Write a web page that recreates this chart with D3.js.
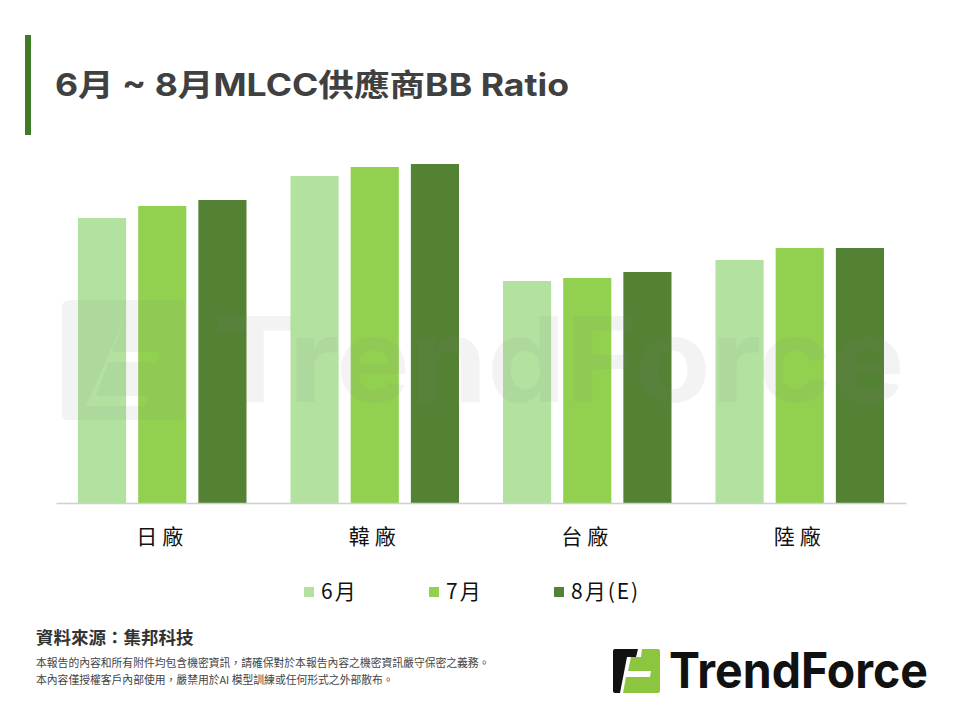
<!DOCTYPE html>
<html>
<head>
<meta charset="utf-8">
<script src="https://cdn.jsdelivr.net/npm/d3@7"></script>
<style>
  html, body { margin: 0; padding: 0; background: #fff; }
  svg { display: block; }
</style>
</head>
<body>
<svg id="chart"></svg>
<script>
const categories = ["日廠", "韓廠", "台廠", "陸廠"];
const seriesNames = ["6月", "7月", "8月(E)"];
// BB ratio per category, one array per month
const june = [0.95, 1.09, 0.74, 0.81];
const july = [0.99, 1.12, 0.75, 0.85];
const august = [1.01, 1.13, 0.77, 0.85];
const colors = ["#b3e2a0", "#92d050", "#548235"];

const width = 960;
const height = 720;
const margin = { top: 143, right: 54, bottom: 217, left: 56 };

const svg = d3.select("#chart").attr("width", width).attr("height", height);

// title block
svg.append("rect")
  .attr("x", 25).attr("y", 35).attr("width", 6).attr("height", 100)
  .attr("fill", "#3f7a26");

svg.append("text")
  .attr("x", 55).attr("y", 96)
  .attr("font-family", "Inter, 'Noto Sans CJK TC', sans-serif")
  .attr("font-weight", 700)
  .attr("font-size", 31)
  .attr("fill", "#404040")
  .attr("textLength", 514)
  .attr("lengthAdjust", "spacingAndGlyphs")
  .text("6月 ~ 8月MLCC供應商BB Ratio");

const values = [june, july, august];
const rows = categories.map((c, i) => ({
  category: c,
  vals: seriesNames.map((s, j) => ({ series: s, idx: j, value: values[j][i] }))
}));

const x0 = d3.scaleBand()
  .domain(categories)
  .range([margin.left, width - margin.right])
  .paddingInner(0)
  .paddingOuter(0);

const x1 = d3.scaleBand()
  .domain(seriesNames)
  .range([22, x0.bandwidth() - 22])
  .paddingInner(0.2);

const y = d3.scaleLinear()
  .domain([0, 1.2])
  .range([height - margin.bottom, margin.top]);

// bars
const groups = svg.append("g")
  .selectAll("g")
  .data(rows)
  .join("g")
  .attr("transform", (d) => `translate(${x0(d.category)},0)`);

groups.selectAll("rect")
  .data((d) => d.vals)
  .join("rect")
  .attr("x", (d) => x1(d.series))
  .attr("y", (d) => y(d.value))
  .attr("width", x1.bandwidth())
  .attr("height", (d) => y(0) - y(d.value))
  .attr("fill", (d) => colors[d.idx]);

// x axis
const xAxis = svg.append("g")
  .attr("transform", `translate(0,${y(0)})`)
  .call(d3.axisBottom(x0).tickSize(0).tickPadding(26));
xAxis.select(".domain").attr("stroke", "#d0d0d0").attr("stroke-width", 1.5);
xAxis.selectAll("text")
  .attr("font-family", "'Noto Sans CJK TC', sans-serif")
  .attr("font-size", 21)
  .attr("letter-spacing", 5)
  .attr("fill", "#111");

// watermark
const wm = svg.append("g").attr("opacity", 0.09).attr("fill", "#888");
wm.append("path")
  .attr("d", "M74,300 H180 Q185,300 185,306 V414 Q185,420 179,420 H68 Q62,420 62,414 V306 Q62,300 74,300 Z"
    + " M125,318 L112,352 H160 L156,362 H108 L96,396 H150 L146,406 H86 Z")
  .attr("fill-rule", "evenodd");
wm.append("text")
  .attr("x", 213).attr("y", 402)
  .attr("font-family", "Inter, sans-serif")
  .attr("font-weight", 700)
  .attr("font-size", 118)
  .attr("textLength", 692)
  .attr("lengthAdjust", "spacingAndGlyphs")
  .text("TrendForce");

// legend
const legendX = [304, 429, 554];
const legend = svg.append("g")
  .selectAll("g")
  .data(seriesNames)
  .join("g")
  .attr("transform", (d, i) => `translate(${legendX[i]},587)`);
legend.append("rect")
  .attr("width", 10).attr("height", 10)
  .attr("fill", (d, i) => colors[i]);
legend.append("text")
  .attr("x", 17).attr("y", 12)
  .attr("font-family", "'Noto Sans CJK TC', sans-serif")
  .attr("font-size", 21)
  .attr("letter-spacing", 2)
  .attr("fill", "#111")
  .text((d) => d);

// source + disclaimer
svg.append("text")
  .attr("x", 36).attr("y", 644)
  .attr("font-family", "'Noto Sans CJK TC', sans-serif")
  .attr("font-weight", 700)
  .attr("font-size", 17.5)
  .attr("fill", "#333")
  .text("資料來源：集邦科技");
const notes = [
  "本報告的內容和所有附件均包含機密資訊，請確保對於本報告內容之機密資訊嚴守保密之義務。",
  "本內容僅授權客戶內部使用，嚴禁用於AI 模型訓練或任何形式之外部散布。"
];
svg.append("g")
  .selectAll("text")
  .data(notes)
  .join("text")
  .attr("x", 36)
  .attr("y", (d, i) => 667 + i * 17)
  .attr("font-family", "'Noto Sans CJK TC', sans-serif")
  .attr("font-size", 10.8)
  .attr("fill", "#444")
  .text((d) => d);

// TrendForce logo
const logo = svg.append("g").attr("transform", "translate(613,649)");
logo.append("path")
  .attr("d", "M2,0 H25 L23,8 H14 L7,44 H2 Q0,44 0,42 V2 Q0,0 2,0 Z")
  .attr("fill", "#111");
logo.append("path")
  .attr("d", "M29,0 H45 Q47,0 47,2 V42 Q47,44 45,44 H10 L13,28 H37 L38,22 H15 L18,8 H28 Z")
  .attr("fill", "#8cc63f");
logo.append("text")
  .attr("x", 56).attr("y", 39)
  .attr("font-family", "Inter, sans-serif")
  .attr("font-weight", 700)
  .attr("font-size", 49)
  .attr("fill", "#111")
  .attr("textLength", 259)
  .attr("lengthAdjust", "spacingAndGlyphs")
  .text("TrendForce");
</script>
</body>
</html>
